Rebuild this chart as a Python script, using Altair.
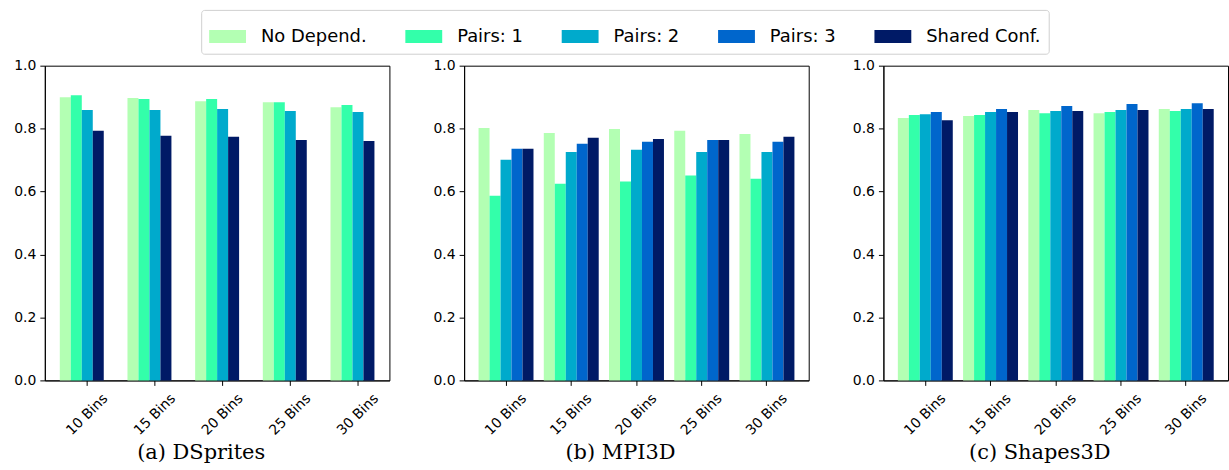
import altair as alt
import pandas as pd

# ---------------- data ----------------
bins = ["10 Bins", "15 Bins", "20 Bins", "25 Bins", "30 Bins"]
series = ["No Depend.", "Pairs: 1", "Pairs: 2", "Pairs: 3", "Shared Conf."]
colors = ["#b3ffb3", "#33ffaa", "#00aacc", "#0066cc", "#001a66"]

# DSprites (no "Pairs: 3" run)
dsprites_no_depend = [0.900, 0.897, 0.887, 0.884, 0.868]
dsprites_pairs1 = [0.906, 0.894, 0.894, 0.884, 0.875]
dsprites_pairs2 = [0.859, 0.859, 0.862, 0.856, 0.853]
dsprites_shared = [0.793, 0.777, 0.774, 0.764, 0.761]

# MPI3D
mpi3d_no_depend = [0.802, 0.786, 0.799, 0.793, 0.783]
mpi3d_pairs1 = [0.587, 0.625, 0.632, 0.651, 0.641]
mpi3d_pairs2 = [0.701, 0.726, 0.733, 0.726, 0.726]
mpi3d_pairs3 = [0.736, 0.752, 0.758, 0.764, 0.758]
mpi3d_shared = [0.736, 0.771, 0.767, 0.764, 0.774]

# Shapes3D
shapes_no_depend = [0.834, 0.840, 0.859, 0.849, 0.862]
shapes_pairs1 = [0.843, 0.843, 0.849, 0.853, 0.856]
shapes_pairs2 = [0.846, 0.853, 0.856, 0.859, 0.862]
shapes_pairs3 = [0.853, 0.862, 0.872, 0.878, 0.881]
shapes_shared = [0.827, 0.853, 0.856, 0.859, 0.862]

titles = ["(a) DSprites", "(b) MPI3D", "(c) Shapes3D"]

panels = [
    {"No Depend.": dsprites_no_depend, "Pairs: 1": dsprites_pairs1,
     "Pairs: 2": dsprites_pairs2, "Shared Conf.": dsprites_shared},
    {"No Depend.": mpi3d_no_depend, "Pairs: 1": mpi3d_pairs1,
     "Pairs: 2": mpi3d_pairs2, "Pairs: 3": mpi3d_pairs3, "Shared Conf.": mpi3d_shared},
    {"No Depend.": shapes_no_depend, "Pairs: 1": shapes_pairs1,
     "Pairs: 2": shapes_pairs2, "Pairs: 3": shapes_pairs3, "Shared Conf.": shapes_shared},
]


def make_df(d):
    rows = []
    present = [s for s in series if s in d]
    for slot, s in enumerate(present):
        for b, v in zip(bins, d[s]):
            rows.append({"bins": b, "series": s, "value": v, "slot": slot})
    return pd.DataFrame(rows)


FONT = "DejaVu Sans"
W, H = 346, 316

# band-scale parameters (per panel) to match group spacing
scale_params = [
    dict(paddingInner=0.1882, paddingOuter=0.1402, align=0.79),
    dict(paddingInner=0.1603, paddingOuter=0.2214),
    dict(paddingInner=0.1603, paddingOuter=0.2214),
]

charts = []
for i, (d, t) in enumerate(zip(panels, titles)):
    df = make_df(d)
    legend = None
    if i == 0:
        legend = alt.Legend(
            title=None, orient="none", legendX=157, legendY=-56,
            direction="horizontal", columns=5,
            labelFont=FONT, labelFontSize=18, labelColor="black",
            symbolType="M-1,-0.35H1V0.35H-1Z", symbolSize=1369,
            symbolStrokeWidth=0, symbolOpacity=1,
            strokeColor="#d0d0d0", fillColor="white", cornerRadius=3,
            padding=8, columnPadding=38, labelOffset=15,
        )
    c = alt.Chart(df).mark_bar(opacity=1).encode(
        x=alt.X("bins:N", sort=bins, title=None,
                scale=alt.Scale(domain=bins, **scale_params[i]),
                axis=alt.Axis(labelAngle=-45, labelAlign="center", labelBaseline="middle",
                              labelPadding=29, tickSize=5, labelFont=FONT, labelFontSize=14,
                              labelColor="black", domainColor="black", tickColor="black",
                              labelOverlap=False)),
        xOffset=alt.XOffset("slot:O", scale=alt.Scale(domain=[0, 1, 2, 3, 4],
                                                       paddingInner=0, paddingOuter=0)),
        y=alt.Y("value:Q", title=None,
                scale=alt.Scale(domain=[0, 1], nice=False),
                axis=alt.Axis(values=[0, 0.2, 0.4, 0.6, 0.8, 1.0], format=".1f",
                              tickSize=5, labelPadding=4, labelFont=FONT, labelFontSize=14,
                              labelColor="black", domainColor="black", tickColor="black",
                              grid=False)),
        color=alt.Color("series:N", sort=series,
                        scale=alt.Scale(domain=series, range=colors),
                        legend=legend),
    ).properties(
        width=W, height=H,
        title=alt.TitleParams(text=t, orient="bottom", anchor="middle", dx=-16, offset=5,
                              font="DejaVu Serif", fontSize=21, fontWeight="normal",
                              color="black"),
    )
    charts.append(c)

chart = alt.hconcat(*charts, spacing=42).properties(
    padding={"left": 13, "top": 8, "right": 0, "bottom": 0},
    background="white",
).configure_view(stroke="black", strokeWidth=1)

chart.save("out.html", embed_options={"renderer": "svg", "actions": False})
